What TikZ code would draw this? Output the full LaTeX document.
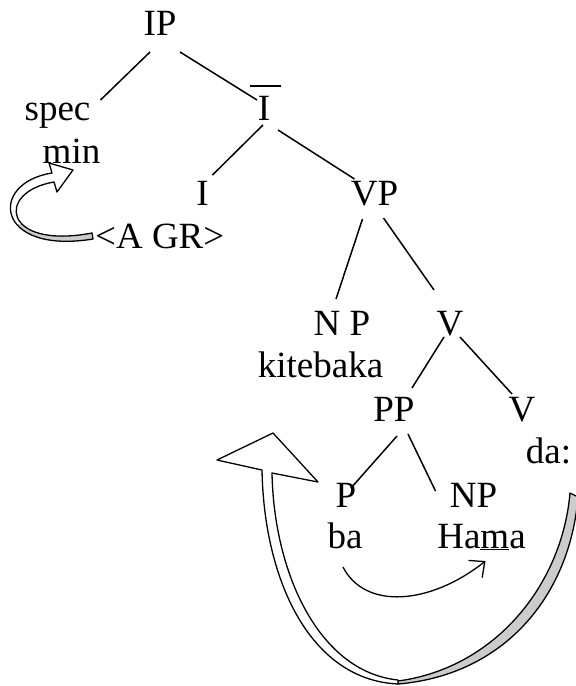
\documentclass[tikz,border=0pt]{standalone}
\usepackage{fontspec}
\setmainfont{Liberation Serif}
\usetikzlibrary{arrows.meta}
\tikzset{
  lbl/.style={inner sep=0pt, anchor=base, font=\fontsize{37}{44}\selectfont},
  lblw/.style={inner sep=0pt, anchor=base west, font=\fontsize{37}{44}\selectfont},
  branch/.style={line width=1.5pt},
  blockarrow/.style={line width=1.3pt, line join=round},
  bandgray/.style={fill=gray!40},
}
\begin{document}
\begin{tikzpicture}[x=1pt,y=-1pt]
\useasboundingbox (0,0) rectangle (576,686);
% big curved block arrow (behind)
\draw[blockarrow, bandgray] (398,684) .. controls (505,675) and (570,595) .. (578,497)
  -- (570,493) .. controls (562,585) and (495,668) .. (398,681) -- cycle;
\draw[blockarrow, fill=white] (398,684) .. controls (310,680) and (264,580) .. (262,470)
  -- (217,460) -- (273,433) -- (318,482) -- (272,473)
  .. controls (274,575) and (320,672) .. (398,680) -- cycle;
% small curved block arrow (left)
\fill[white] (93,239) .. controls (-5,255) and (-12,183) .. (52,173) -- (49,163) -- (73,170) -- (57,192) -- (54,182)
  .. controls (-5,192) and (3,250) .. (92,233) -- cycle;
\begin{scope}
\clip (0,224) rectangle (100,262);
\fill[gray!40] (93,239) .. controls (-5,255) and (-12,183) .. (52,173) -- (54,182)
  .. controls (-5,192) and (3,250) .. (92,233) -- cycle;
\end{scope}
\draw[blockarrow] (93,239) .. controls (-5,255) and (-12,183) .. (52,173) -- (49,163) -- (73,170) -- (57,192) -- (54,182)
  .. controls (-5,192) and (3,250) .. (92,233) -- cycle;
% labels
\node[lbl] (IP) at (160,35) {IP};
\node[lbl] (spec) at (57.5,120) {spec};
\node[lbl] (min) at (71.5,163) {min};
\node[lbl] (Ibar) at (264,120) {I};
\node[lbl] (I) at (202.5,205) {I};
\node[lbl] (VP) at (374.5,205) {VP};
\node[lblw] (agr) at (95,248) {\textless A GR\textgreater};
\node[lbl] (NP1) at (342,335) {N P};
\node[lbl] (kit) at (320.5,377) {kitebaka};
\node[lbl] (V1) at (450,335) {V};
\node[lbl] (PP) at (394,421) {PP};
\node[lbl] (V2) at (522,421) {V};
\node[lbl] (da) at (548.5,463) {da:};
\node[lbl] (P) at (346,507) {P};
\node[lbl] (NP2) at (473.5,507) {NP};
\node[lbl] (ba) at (345,548) {ba};
\node[lbl] (Hama) at (481.5,548) {Ha\underline{m}a};
% bar over I
\draw[line width=1.5pt] ([shift={(-14,-34)}]Ibar.base) -- ([shift={(17,-34)}]Ibar.base);
% tree branches
\draw[branch] ([shift={(-10,17)}]IP.base) -- ([shift={(43,-20)}]spec.base);
\draw[branch] ([shift={(20,17)}]IP.base) -- ([shift={(-7,-20)}]Ibar.base);
\draw[branch] ([shift={(-1,5)}]Ibar.base) -- ([shift={(10,-30)}]I.base);
\draw[branch] ([shift={(14,10)}]Ibar.base) -- ([shift={(-20,-26)}]VP.base);
\draw[branch] ([shift={(-12,14)}]VP.base) -- ([shift={(-6,-36)}]NP1.base);
\draw[branch] ([shift={(9,13)}]VP.base) -- ([shift={(-16,-45)}]V1.base);
\draw[branch] ([shift={(-6,2)}]V1.base) -- ([shift={(18,-33)}]PP.base);
\draw[branch] ([shift={(10,2)}]V1.base) -- ([shift={(-10,-27)}]V2.base);
\draw[branch] ([shift={(3,15)}]PP.base) -- ([shift={(5,-19)}]P.base);
\draw[branch] ([shift={(14,13)}]PP.base) -- ([shift={(-38,-16)}]NP2.base);
% small arrow ba -> Hama
\draw[line width=1.3pt, -{Straight Barb[length=12pt,width=22pt,line width=1.3pt]}]
  ([shift={(-2,19)}]ba.base) .. controls (365,610) and (430,605) .. ([shift={(4,13)}]Hama.base);
\end{tikzpicture}
\end{document}
